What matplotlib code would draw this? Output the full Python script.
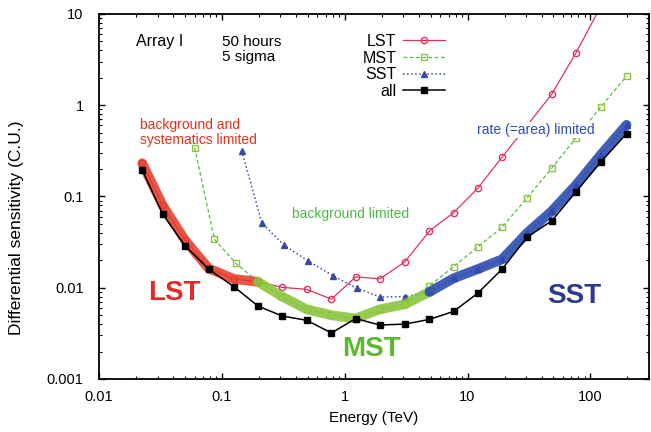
import numpy as np
import matplotlib
matplotlib.use('Agg')
import matplotlib.pyplot as plt

plt.rcParams['font.family'] = ['Liberation Sans', 'DejaVu Sans']

# energies (TeV) and differential sensitivity (Crab units)
e_all = [0.0225, 0.033, 0.05, 0.078, 0.125, 0.197, 0.31, 0.49, 0.78, 1.23, 1.93,
         3.1, 4.9, 7.7, 12.1, 19.1, 30.6, 48.4, 76.5, 121, 197]
s_all = [0.195, 0.064, 0.029, 0.016, 0.0103, 0.0063, 0.0049, 0.0044, 0.0032, 0.0046, 0.0039,
         0.0040, 0.0045, 0.0055, 0.0087, 0.016, 0.036, 0.054, 0.113, 0.237, 0.49]

e_lst = e_all[:20]
s_lst = [0.231, 0.080, 0.0334, 0.0163, 0.0125, 0.0116, 0.0101, 0.0096, 0.0075, 0.0132,
         0.0125, 0.0193, 0.042, 0.0665, 0.123, 0.27, 0.6, 1.32, 3.77, 12.0]

e_mst = [0.06, 0.087, 0.13] + e_all[5:]
s_mst = [0.343, 0.034, 0.0185, 0.0116, 0.0080, 0.0058, 0.0050, 0.0046, 0.0058, 0.0066,
         0.0105, 0.017, 0.028, 0.046, 0.097, 0.204, 0.44, 0.95, 2.09]

e_sst = [0.145, 0.212, 0.32, 0.5, 0.8, 1.25, 1.95] + e_all[11:]
s_sst = [0.318, 0.051, 0.0294, 0.0198, 0.0136, 0.0099, 0.0079, 0.0080, 0.0090, 0.0127,
         0.016, 0.0205, 0.040, 0.069, 0.134, 0.285, 0.61]

fig = plt.figure(figsize=(6.51, 4.32), dpi=100)
ax = fig.add_axes([99 / 651, 53 / 432, 550 / 651, 365 / 432])

# individual arrays
ax.plot(e_lst, s_lst, '-', color='#e0325e', lw=0.9, marker='o', ms=4.5,
        mfc='none', mec='#e0325e', mew=1.0, label='LST', zorder=2)
ax.plot(e_mst, s_mst, '--', color='#5cb848', lw=0.9, dashes=(3, 2), marker='s', ms=4.5,
        mfc='none', mec='#8cc63f', mew=1.0, label='MST', zorder=2)
ax.plot(e_sst, s_sst, ':', color='#3a4aa0', lw=1.1, marker='^', ms=4.5,
        mfc='#3a4aa0', mec='#3a4aa0', label='SST', zorder=2)

# highlighted bands: which array dominates where
ax.plot(e_lst[:6], s_lst[:6], color='#e53a26', lw=7, alpha=0.85,
        solid_capstyle='round', solid_joinstyle='round', zorder=3)
ax.plot(e_mst[3:10] + e_sst[8:9], s_mst[3:10] + s_sst[8:9], color='#8cc63f', lw=7,
        alpha=0.9, solid_capstyle='round', solid_joinstyle='round', zorder=3)
ax.plot(e_sst[8:], s_sst[8:], color='#2e4cb0', lw=7, alpha=0.9,
        solid_capstyle='round', solid_joinstyle='round', zorder=3)

ax.plot(e_all, s_all, '-', color='black', lw=1.1, marker='s', ms=4.5,
        mfc='black', mec='black', label='all', zorder=4)

ax.set_xscale('log')
ax.set_yscale('log')
ax.set_xlim(0.01, 300)
ax.set_ylim(0.001, 10)
ax.set_xticks([0.01, 0.1, 1, 10, 100])
ax.set_xticklabels(['0.01', '0.1', '1', '10', '100'])
ax.set_yticks([0.001, 0.01, 0.1, 1, 10])
ax.set_yticklabels(['0.001', '0.01', '0.1', '1', '10'])
ax.tick_params(which='both', direction='in', top=True, right=True, labelsize=10.5)
ax.tick_params(which='major', length=4.5, width=1.0)
ax.tick_params(which='minor', length=2.5, width=0.8)
ax.tick_params(axis='x', which='major', pad=8)
ax.tick_params(axis='y', which='major', pad=11)
for sp in ax.spines.values():
    sp.set_linewidth(1.3)

ax.set_xlabel('Energy (TeV)', fontsize=11, labelpad=5)
ax.set_ylabel('Differential sensitivity (C.U.)', fontsize=12.5)
ax.yaxis.set_label_coords(-0.136, 0.414)

ax.text(0.067, 0.924, 'Array I', transform=ax.transAxes, fontsize=11.5, va='center')
ax.text(0.223, 0.924, '50 hours', transform=ax.transAxes, fontsize=11, va='center')
ax.text(0.223, 0.881, '5 sigma', transform=ax.transAxes, fontsize=11, va='center')

ax.text(0.0215, 0.50, 'background and\nsystematics limited', color='#e3321e',
        fontsize=10, va='center', linespacing=1.1)
ax.text(0.37, 0.064, 'background limited', color='#4db848', fontsize=10, va='center')
ax.text(12.0, 0.535, 'rate (=area) limited', color='#2e4cb0', fontsize=10, va='center',
        bbox=dict(facecolor='white', edgecolor='none', pad=1), zorder=5)

ax.text(0.025, 0.00875, 'LST', color='#e8282a', fontsize=20, fontweight='bold', va='center')
ax.text(0.946, 0.00211, 'MST', color='#5cb82e', fontsize=20, fontweight='bold', va='center')
ax.text(44.7, 0.0081, 'SST', color='#2b3a90', fontsize=20, fontweight='bold', va='center')

ax.legend(loc='upper right', bbox_to_anchor=(0.629, 0.945), frameon=False,
          markerfirst=False, fontsize=11.5, handlelength=2.6, handletextpad=0.45,
          labelspacing=0.1, borderpad=0, borderaxespad=0)

fig.savefig('out.png', dpi=100)
